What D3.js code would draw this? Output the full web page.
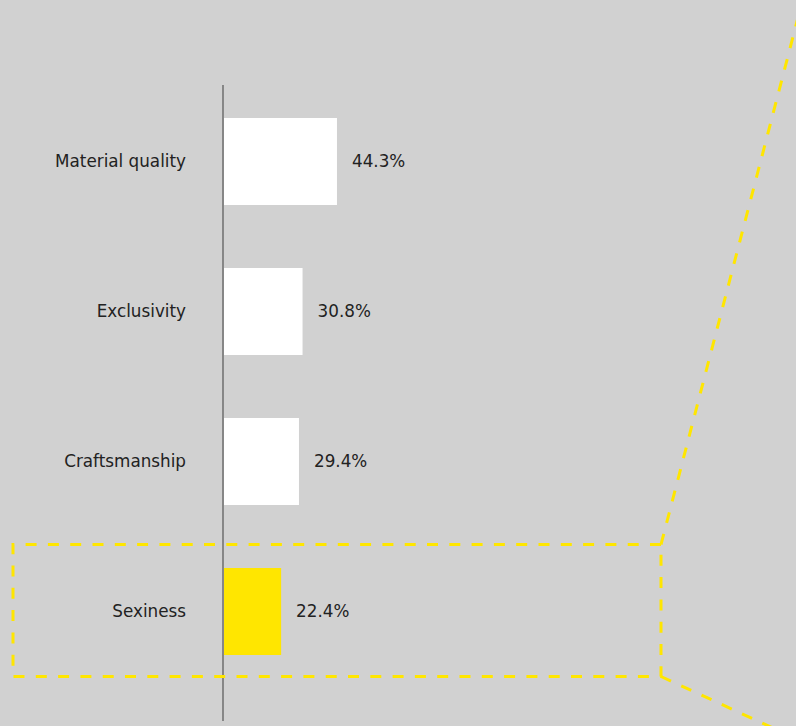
<!DOCTYPE html>
<html><head><meta charset="utf-8">
<script src="https://cdn.jsdelivr.net/npm/d3@7"></script>
<style>html,body{margin:0;padding:0;background:#d1d1d1;}svg{display:block;}</style>
</head><body><svg id="c" width="796" height="726"></svg>
<script>
const categories = ["Material quality", "Exclusivity", "Craftsmanship", "Sexiness"];
const values = [44.3, 30.8, 29.4, 22.4];
const highlight = ["Sexiness"];

(function(){
const svg = d3.select("#c");
svg.append("rect").attr("width",796).attr("height",726).attr("fill","#d1d1d1");

const x = d3.scaleLinear().domain([0,100]).range([224,479]);
const y = d3.scaleBand().domain(categories).range([86.5,686.5]).paddingInner(0.42).paddingOuter(0.21);

const font = "'DejaVu Sans', sans-serif";

svg.selectAll("rect.bar").data(categories).join("rect").attr("class","bar")
  .attr("x", x(0)).attr("y", d=>y(d)).attr("height", y.bandwidth())
  .attr("width", (d,i)=>x(values[i])-x(0))
  .attr("fill", d=>highlight.includes(d) ? "#ffe600" : "#ffffff");

svg.append("line").attr("x1",223).attr("x2",223).attr("y1",85).attr("y2",721)
  .attr("stroke","#747474").attr("stroke-width",1.6);

svg.selectAll("text.cat").data(categories).join("text").attr("class","cat")
  .attr("x",186).attr("y",d=>y(d)+y.bandwidth()/2).attr("dy","0.35em")
  .attr("text-anchor","end").attr("font-family",font).attr("font-size",16.8)
  .attr("fill","#222").text(d=>d);

svg.selectAll("text.val").data(categories).join("text").attr("class","val")
  .attr("x",(d,i)=>x(values[i])+15).attr("y",d=>y(d)+y.bandwidth()/2).attr("dy","0.35em")
  .attr("font-family",font).attr("font-size",16.8).attr("fill","#222")
  .text((d,i)=>values[i].toFixed(1)+"%");

const hb = highlight[0];
const yTop = y(hb) - 23.5, yBot = y(hb) + y.bandwidth() + 21.5;
const left = 13, right = 661;
const dash = {"stroke":"#ffe600","stroke-width":3,"fill":"none","stroke-dasharray":"11,11.3"};
const g = svg.append("g");
const p = g.append("path")
  .attr("d", `M${right},${yTop} L${left},${yTop} L${left},${yBot} L${right},${yBot} Z`);
const l1 = g.append("path").attr("d", `M${right},${yTop} L${right+0.26*600},${yTop-600}`);
const l2 = g.append("path").attr("d", `M${right},${yBot} L${right+300},${yBot+0.46*300}`);
[p,l1,l2].forEach(s=>Object.entries(dash).forEach(([k,v])=>s.attr(k,v)));
})();
</script></body></html>
